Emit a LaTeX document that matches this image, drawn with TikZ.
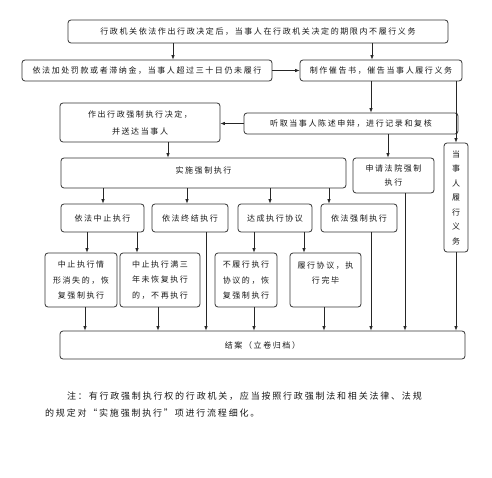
\documentclass[tikz,border=0pt]{standalone}
\usepackage{fontspec}
\setmainfont{Noto Sans CJK SC}[LetterSpace=20]
\usetikzlibrary{arrows.meta}
\tikzset{
  box/.style={draw=black!80, rounded corners=3pt, line width=0.8pt, align=center, inner sep=0pt, text=black!90},
  arr/.style={-{Latex[length=4.5pt,width=3.5pt]}, line width=0.7pt, draw=black!85},
  ln/.style={line width=0.7pt, draw=black!85},
  fs/.style={font=\fontsize{8}{15}\selectfont},
}
\begin{document}
\begin{tikzpicture}[x=1pt,y=-1pt]
\useasboundingbox[fill=white] (0,0) rectangle (492,478);
% boxes
\node[box,fs,minimum width=380,minimum height=23] (top) at (258,31.5) {行政机关依法作出行政决定后，当事人在行政机关决定的期限内不履行义务};
\node[box,fs,minimum width=250,minimum height=21] (fine) at (147,70.5) {依法加处罚款或者滞纳金，当事人超过三十日仍未履行};
\node[box,fs,minimum width=162,minimum height=21] (cuigao) at (381,70.5) {制作催告书，催告当事人履行义务};
\node[box,font=\fontsize{8}{17}\selectfont,minimum width=160,minimum height=39] (zuochu) at (140,122.5) {作出行政强制执行决定，\\并送达当事人};
\node[box,fs,minimum width=214,minimum height=21] (tingqu) at (351,123.5) {听取当事人陈述申辩，进行记录和复核};
\node[box,font=\fontsize{8}{14.5}\selectfont,minimum width=24,minimum height=109] (lvxing) at (456,197.5) {当\\事\\人\\履\\行\\义\\务};
\node[box,fs,minimum width=285,minimum height=30] (shishi) at (203.5,173) {实施强制执行\rule[-6pt]{0pt}{0pt}};
\node[box,font=\fontsize{8}{14}\selectfont,minimum width=81,minimum height=35] (shenqing) at (393.5,175.5) {申请法院强制\\执行};
\node[box,fs,minimum width=83,minimum height=28] (zhongzhi) at (102.5,218) {依法中止执行};
\node[box,fs,minimum width=76,minimum height=28] (zhongjie) at (190,218) {依法终结执行};
\node[box,fs,minimum width=74,minimum height=28] (dacheng) at (275,218) {达成执行协议};
\node[box,fs,minimum width=76,minimum height=28] (qiangzhi) at (359,218) {依法强制执行};
\node[box,font=\fontsize{8}{15.5}\selectfont,minimum width=72,minimum height=54] (a) at (81,280) {中止执行情\\形消失的，恢\\复强制执行};
\node[box,font=\fontsize{8}{15.5}\selectfont,minimum width=80,minimum height=54] (b) at (160,280) {中止执行满三\\年未恢复执行\\的，不再执行};
\node[box,font=\fontsize{8}{15.5}\selectfont,minimum width=62,minimum height=54] (c) at (246,280) {不履行执行\\协议的，恢\\复强制执行};
\node[box,font=\fontsize{8}{14.5}\selectfont,minimum width=71,minimum height=54] (d) at (325.5,280) {履行协议，执\\行完毕\\\mbox{}};
\node[box,fs,minimum width=405,minimum height=28] (jiean) at (262.5,345) {结案（立卷归档）};
% note
\node[anchor=west,inner sep=0pt,font=\fontsize{9}{12}\selectfont,text=black!90] (note1) at (67,396) {注：有行政强制执行权的行政机关，应当按照行政强制法和相关法律、法规};
\node[anchor=west,inner sep=0pt,font=\fontsize{9}{12}\selectfont,text=black!90] (note2) at (45,413) {的规定对“实施强制执行”项进行流程细化。};
% column coordinates
\foreach \xx in {85,87,103,137,158,168,173,187,206,254,270,304,324,329,371,372,388,405,456}{\coordinate (c\xx) at (\xx,0);}
% connectors
\draw[arr] (top.south -| c173) -- (fine.north -| c173);
\draw[arr] (top.south -| c372) -- (cuigao.north -| c372);
\draw[arr] (fine.east) -- (cuigao.west);
\draw[arr] (cuigao.south -| c371) -- (tingqu.north -| c371);
\draw[arr] (cuigao.south -| c456) -- (lvxing.north);
\draw[arr] (tingqu.west) -- (tingqu.west -| zuochu.east);
\draw[arr] (zuochu.south -| c168) -- (shishi.north -| c168);
\draw[arr] (tingqu.south -| c388) -- (shenqing.north -| c388);
\draw[arr] (shishi.south -| c103) -- (zhongzhi.north -| c103);
\draw[arr] (shishi.south -| c187) -- (zhongjie.north -| c187);
\draw[arr] (shishi.south -| c270) -- (dacheng.north -| c270);
\draw[arr] (shishi.south -| c329) -- (qiangzhi.north -| c329);
\draw[arr] (zhongzhi.south -| c87) -- (a.north -| c87);
\draw[arr] (zhongzhi.south -| c137) -- (b.north -| c137);
\draw[arr] (dacheng.south -| c254) -- (c.north -| c254);
\draw[arr] (dacheng.south -| c304) -- (d.north -| c304);
\draw[arr] (zhongjie.south -| c206) -- (jiean.north -| c206);
\draw[arr] (qiangzhi.south -| c371) -- (jiean.north -| c371);
\draw[arr] (shenqing.south -| c405) -- (jiean.north -| c405);
\draw[arr] (lvxing.south) -- (jiean.north -| lvxing.south);
\draw[arr] (a.south -| c85) -- (jiean.north -| c85);
\draw[arr] (b.south -| c158) -- (jiean.north -| c158);
\draw[arr] (c.south -| c254) -- (jiean.north -| c254);
\draw[arr] (d.south -| c324) -- (jiean.north -| c324);
\end{tikzpicture}
\end{document}
